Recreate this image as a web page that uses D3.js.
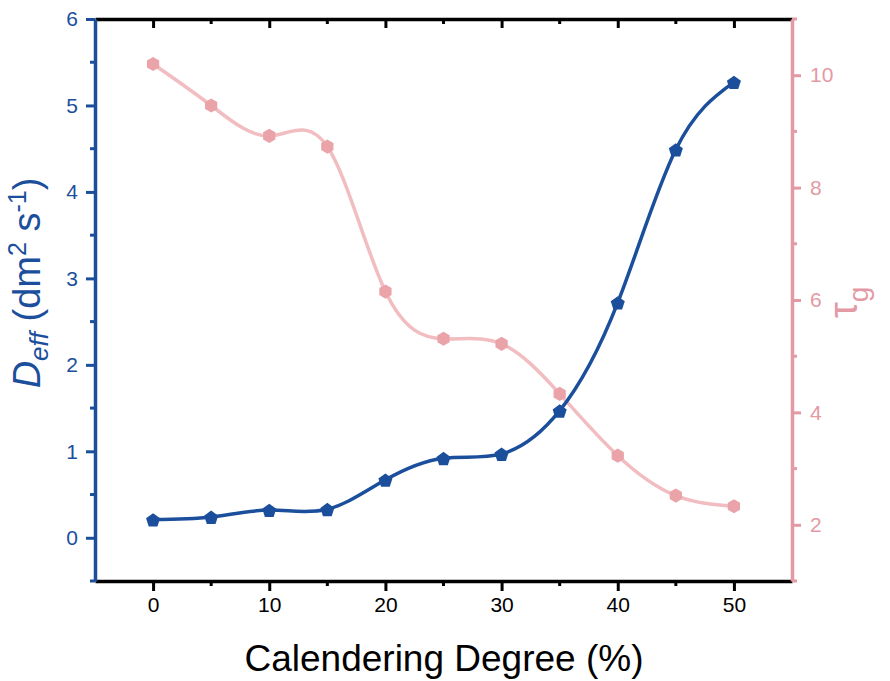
<!DOCTYPE html>
<html>
<head>
<meta charset="utf-8">
<script src="https://cdn.jsdelivr.net/npm/d3@7"></script>
<style>
  html, body { margin: 0; padding: 0; background: #ffffff; }
  svg { display: block; font-family: "Liberation Sans", Arial, sans-serif; }
</style>
</head>
<body>
<svg id="chart" width="890" height="681"></svg>
<script>
// Calendering degree (%) on the x axis
const degree = [0, 5, 10, 15, 20, 25, 30, 35, 40, 45, 50];
// Effective diffusion coefficient, left axis
const deff = [0.21, 0.24, 0.32, 0.33, 0.67, 0.92, 0.97, 1.47, 2.72, 4.49, 5.27];
// Tortuosity, right axis
const tau = [10.2, 9.46, 8.92, 8.73, 6.15, 5.31, 5.22, 4.33, 3.23, 2.52, 2.33];

const xTicks = [0, 10, 20, 30, 40, 50];
const yLeftTicks = [0, 1, 2, 3, 4, 5, 6];
const yRightTicks = [2, 4, 6, 8, 10];

const blue = "#1b4f9c";
const pinkAxis = "#e39aa4";
const pinkLine = "#f2bdc0";
const pinkMark = "#e9a3a9";

const svg = d3.select("#chart");
const L = 95, R = 792, T = 19, B = 581;

const x = d3.scaleLinear().domain([-5, 55]).range([L, R]);
const yL = d3.scaleLinear().domain([-0.5, 6]).range([B, T]);
const yR = d3.scaleLinear().domain([1, 11]).range([B, T]);

// Bottom axis (black, outward ticks)
const bottomAxis = svg.append("g").attr("transform", `translate(0,${B})`)
  .call(d3.axisBottom(x).tickValues(xTicks).tickSize(10).tickSizeOuter(0).tickPadding(6).tickFormat(d3.format("d")));
bottomAxis.append("g").selectAll("line").data([5, 15, 25, 35, 45])
  .join("line").attr("x1", d => x(d)).attr("x2", d => x(d)).attr("y1", 0).attr("y2", 5)
  .attr("stroke", "#000").attr("stroke-width", 3);

// Top axis (black, inward ticks, no labels)
const topAxis = svg.append("g").attr("transform", `translate(0,${T})`)
  .call(d3.axisBottom(x).tickValues(xTicks).tickSize(9).tickSizeOuter(0).tickFormat(""));
topAxis.append("g").selectAll("line").data([5, 15, 25, 35, 45])
  .join("line").attr("x1", d => x(d)).attr("x2", d => x(d)).attr("y1", 0).attr("y2", 5)
  .attr("stroke", "#000").attr("stroke-width", 3);

[bottomAxis, topAxis].forEach(g => {
  g.select(".domain").attr("stroke", "#000").attr("stroke-width", 3.5);
  g.selectAll(".tick line").attr("stroke", "#000").attr("stroke-width", 3);
  g.selectAll(".tick text").attr("fill", "#000").attr("font-size", 21);
});

// Left axis (blue)
const leftAxis = svg.append("g").attr("transform", `translate(${L},0)`)
  .call(d3.axisLeft(yL).tickValues(yLeftTicks).tickSize(9).tickSizeOuter(0).tickPadding(8).tickFormat(d3.format("d")));
leftAxis.select(".domain").attr("stroke", blue).attr("stroke-width", 3.5);
leftAxis.selectAll(".tick line").attr("stroke", blue).attr("stroke-width", 3);
leftAxis.selectAll(".tick text").attr("fill", blue).attr("font-size", 21);
leftAxis.append("g").selectAll("line").data([-0.5, 0.5, 1.5, 2.5, 3.5, 4.5, 5.5])
  .join("line").attr("y1", d => yL(d)).attr("y2", d => yL(d)).attr("x1", 0).attr("x2", -5)
  .attr("stroke", blue).attr("stroke-width", 3);

// Right axis (pink)
const rightAxis = svg.append("g").attr("transform", `translate(${R},0)`)
  .call(d3.axisRight(yR).tickValues(yRightTicks).tickSize(9).tickSizeOuter(0).tickPadding(9).tickFormat(d3.format("d")));
rightAxis.select(".domain").attr("stroke", pinkAxis).attr("stroke-width", 3.5);
rightAxis.selectAll(".tick line").attr("stroke", pinkAxis).attr("stroke-width", 3);
rightAxis.selectAll(".tick text").attr("fill", pinkAxis).attr("font-size", 21);
rightAxis.append("g").selectAll("line").data([1, 3, 5, 7, 9, 11])
  .join("line").attr("y1", d => yR(d)).attr("y2", d => yR(d)).attr("x1", 0).attr("x2", 5)
  .attr("stroke", pinkAxis).attr("stroke-width", 3);

// Tortuosity curve with hexagon markers
const tauPts = degree.map((d, i) => [d, tau[i]]);
svg.append("path").datum(tauPts)
  .attr("d", d3.line().x(d => x(d[0])).y(d => yR(d[1])).curve(d3.curveNatural))
  .attr("fill", "none").attr("stroke", pinkLine).attr("stroke-width", 3.5);
const hex = d3.symbol().type({ draw(ctx, size) {
  const r = Math.sqrt(size / (1.5 * Math.sqrt(3)));
  for (let k = 0; k < 6; k++) {
    const a = Math.PI / 6 + k * Math.PI / 3;
    const px = r * Math.cos(a), py = r * Math.sin(a);
    k ? ctx.lineTo(px, py) : ctx.moveTo(px, py);
  }
  ctx.closePath();
}}).size(130);
svg.append("g").selectAll("path").data(tauPts).join("path")
  .attr("transform", d => `translate(${x(d[0])},${yR(d[1])})`)
  .attr("d", hex).attr("fill", pinkMark);

// Diffusion coefficient curve with pentagon markers
const deffPts = degree.map((d, i) => [d, deff[i]]);
svg.append("path").datum(deffPts)
  .attr("d", d3.line().x(d => x(d[0])).y(d => yL(d[1])).curve(d3.curveNatural))
  .attr("fill", "none").attr("stroke", blue).attr("stroke-width", 3.5);
const pent = d3.symbol().type({ draw(ctx, size) {
  const r = Math.sqrt(size / 2.378);
  for (let k = 0; k < 5; k++) {
    const a = -Math.PI / 2 + k * 2 * Math.PI / 5;
    const px = r * Math.cos(a), py = r * Math.sin(a);
    k ? ctx.lineTo(px, py) : ctx.moveTo(px, py);
  }
  ctx.closePath();
}}).size(130);
svg.append("g").selectAll("path").data(deffPts).join("path")
  .attr("transform", d => `translate(${x(d[0])},${yL(d[1]) + 1})`)
  .attr("d", pent).attr("fill", blue);

// Axis titles
svg.append("text").attr("x", 444).attr("y", 671).attr("text-anchor", "middle")
  .attr("font-size", 37).attr("fill", "#000").text("Calendering Degree (%)");

const lt = svg.append("text").attr("transform", "translate(40,283) rotate(-90)")
  .attr("text-anchor", "middle").attr("font-size", 38).attr("fill", blue);
lt.append("tspan").attr("font-style", "italic").text("D");
lt.append("tspan").attr("font-style", "italic").attr("font-size", 26).attr("dy", 8).text("eff");
lt.append("tspan").attr("dy", -8).text(" (dm");
lt.append("tspan").attr("font-size", 25).attr("dy", -14).text("2");
lt.append("tspan").attr("dy", 14).text(" s");
lt.append("tspan").attr("font-size", 25).attr("dy", -14).text("-1");
lt.append("tspan").attr("dy", 14).text(")");

const rt = svg.append("text").attr("transform", "translate(857,318) rotate(-90)")
  .attr("text-anchor", "start").attr("font-size", 40).attr("fill", pinkAxis);
rt.append("tspan").text("τ");
rt.append("tspan").attr("font-size", 28).attr("dy", 11).text("g");
</script>
</body>
</html>
